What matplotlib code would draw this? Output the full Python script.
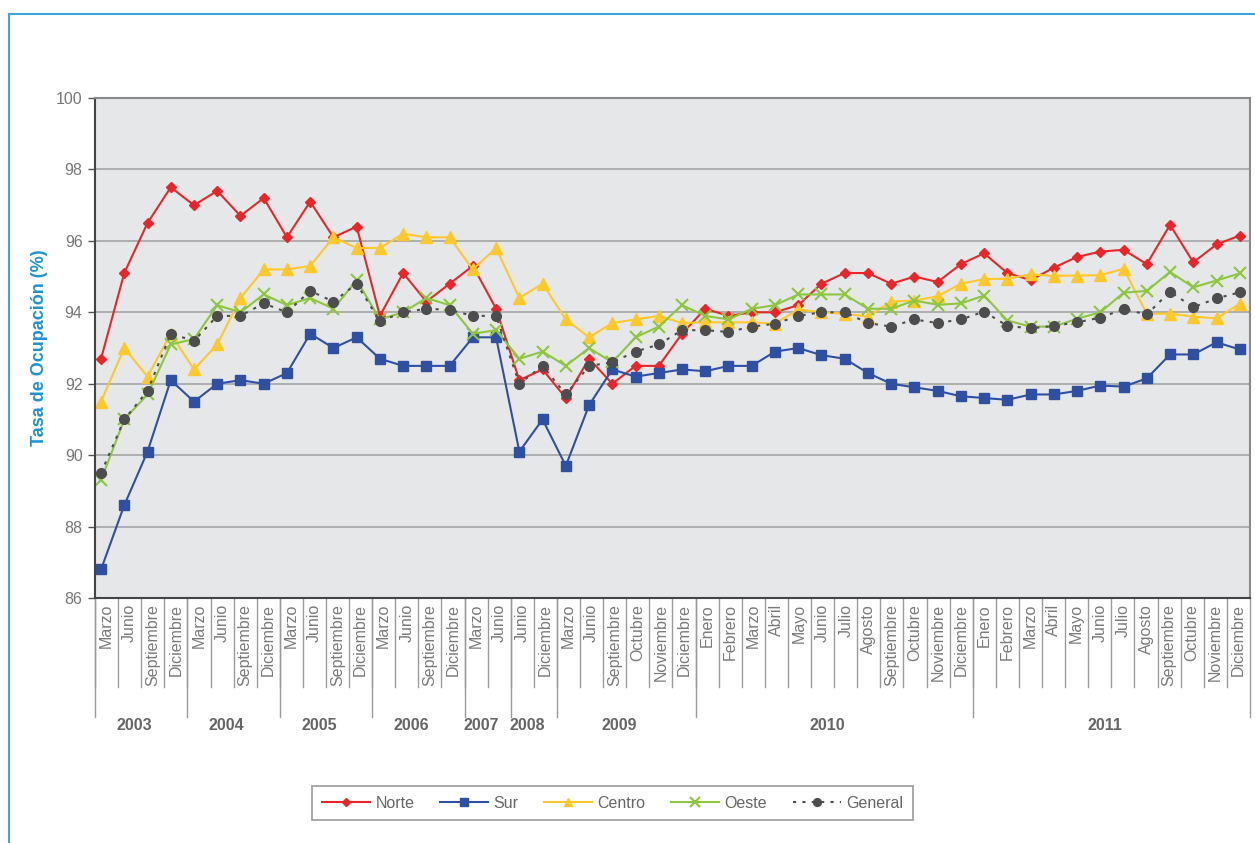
import matplotlib.pyplot as plt
from matplotlib.lines import Line2D

plt.rcParams['font.family'] = ['Liberation Sans', 'DejaVu Sans']

# categories (year -> months)
years = ['2003', '2004', '2005', '2006', '2007', '2008', '2009', '2010', '2011']
months_by_year = [
    ['Marzo', 'Junio', 'Septiembre', 'Diciembre'],
    ['Marzo', 'Junio', 'Septiembre', 'Diciembre'],
    ['Marzo', 'Junio', 'Septiembre', 'Diciembre'],
    ['Marzo', 'Junio', 'Septiembre', 'Diciembre'],
    ['Marzo', 'Junio'],
    ['Junio', 'Diciembre'],
    ['Marzo', 'Junio', 'Septiembre', 'Octubre', 'Noviembre', 'Diciembre'],
    ['Enero', 'Febrero', 'Marzo', 'Abril', 'Mayo', 'Junio', 'Julio', 'Agosto',
     'Septiembre', 'Octubre', 'Noviembre', 'Diciembre'],
    ['Enero', 'Febrero', 'Marzo', 'Abril', 'Mayo', 'Junio', 'Julio', 'Agosto',
     'Septiembre', 'Octubre', 'Noviembre', 'Diciembre'],
]

norte = [92.7, 95.1, 96.5, 97.5, 97.0, 97.4, 96.7, 97.2, 96.1, 97.1, 96.1, 96.4,
         93.9, 95.1, 94.3, 94.8, 95.3, 94.1, 92.1, 92.4, 91.6, 92.7, 92.0, 92.5, 92.5, 93.4,
         94.1, 93.9, 94.0, 94.0, 94.2, 94.8, 95.1, 95.1, 94.8, 95.0, 94.85, 95.35,
         95.65, 95.1, 94.9, 95.25, 95.55, 95.7, 95.75, 95.35, 96.45, 95.4, 95.9, 96.15]
sur = [86.8, 88.6, 90.1, 92.1, 91.5, 92.0, 92.1, 92.0, 92.3, 93.4, 93.0, 93.3,
       92.7, 92.5, 92.5, 92.5, 93.3, 93.3, 90.1, 91.0, 89.7, 91.4, 92.4, 92.2, 92.3, 92.4,
       92.35, 92.5, 92.5, 92.9, 93.0, 92.8, 92.7, 92.3, 92.0, 91.9, 91.8, 91.65,
       91.6, 91.55, 91.7, 91.7, 91.8, 91.95, 91.92, 92.15, 92.82, 92.82, 93.16, 92.96]
centro = [91.5, 93.0, 92.2, 93.4, 92.4, 93.1, 94.4, 95.2, 95.2, 95.3, 96.1, 95.8,
          95.8, 96.2, 96.1, 96.1, 95.2, 95.8, 94.4, 94.8, 93.8, 93.3, 93.7, 93.8, 93.9, 93.7,
          93.72, 93.72, 93.72, 93.68, 94.08, 94.0, 93.96, 93.88, 94.3, 94.33, 94.45, 94.8,
          94.93, 94.94, 95.06, 95.02, 95.03, 95.04, 95.22, 93.96, 93.96, 93.88, 93.83, 94.24]
oeste = [89.3, 91.0, 91.7, 93.1, 93.25, 94.2, 94.0, 94.5, 94.2, 94.4, 94.1, 94.9,
         93.8, 94.0, 94.4, 94.2, 93.4, 93.5, 92.7, 92.9, 92.5, 93.0, 92.6, 93.3, 93.6, 94.2,
         93.9, 93.8, 94.1, 94.2, 94.5, 94.5, 94.5, 94.1, 94.1, 94.33, 94.21, 94.25,
         94.47, 93.77, 93.6, 93.6, 93.82, 94.0, 94.55, 94.6, 95.13, 94.7, 94.89, 95.09]
general = [89.5, 91.0, 91.8, 93.4, 93.2, 93.9, 93.9, 94.25, 94.0, 94.6, 94.3, 94.8,
           93.75, 94.0, 94.1, 94.07, 93.9, 93.9, 92.0, 92.5, 91.7, 92.5, 92.6, 92.9, 93.1, 93.5,
           93.5, 93.45, 93.6, 93.68, 93.9, 94.0, 94.0, 93.7, 93.6, 93.8, 93.7, 93.8,
           94.02, 93.62, 93.55, 93.62, 93.72, 93.85, 94.09, 93.94, 94.58, 94.14, 94.39, 94.56]

months = [m for ms in months_by_year for m in ms]
n = len(months)
x = list(range(n))

fig = plt.figure(figsize=(12.55, 8.43), dpi=100)
ax = fig.add_axes([0.0757, 0.2906, 0.9203, 0.5931])
ax.set_facecolor('#E6E7E8')

ax.plot(x, norte, color='#E8262A', lw=1.5, marker='D', ms=5, label='Norte')
ax.plot(x, sur, color='#2F4FA2', lw=1.5, marker='s', ms=7, label='Sur')
ax.plot(x, centro, color='#FFC82A', lw=1.5, marker='^', ms=8, label='Centro')
ax.plot(x, oeste, color='#8DC63F', lw=1.5, marker='x', ms=9, mew=1.5, label='Oeste')
ax.plot(x, general, color='#4D4D4D', lw=1.5, ls=(0, (1.5, 3)), marker='o', ms=7,
        label='General')

ax.set_ylim(86, 100)
ax.set_yticks(range(86, 101, 2))
ax.set_xlim(-0.26, 49.44)
ax.set_xticks([])
ax.grid(axis='y', color='#A9A9A9', lw=1.3)
ax.set_axisbelow(True)
ax.tick_params(axis='y', length=5, width=1, color='#555555', labelsize=11.5,
               labelcolor='#777777', pad=4)
for s in ['top', 'right']:
    ax.spines[s].set_color('#8A8A8A')
    ax.spines[s].set_linewidth(1.5)
for s in ['left', 'bottom']:
    ax.spines[s].set_color('#444444')
    ax.spines[s].set_linewidth(1.5)

ax.set_ylabel('Tasa de Ocupación (%)', fontsize=13, fontweight='bold', color='#1D93D3')
ax.yaxis.set_label_coords(-0.041, 0.5)

# category table below the axis
sep_col = '#9A9A9A'
for i, m in enumerate(months):
    ax.text((i + 0.5) / n, -0.012, m, transform=ax.transAxes, rotation=90,
            ha='center', va='top', fontsize=11.5, color='#7A7A7A')
    ax.add_line(Line2D([i / n, i / n], [0, -0.178], transform=ax.transAxes,
                       color=sep_col, lw=1, clip_on=False))
start = 0
for yr, ms in zip(years, months_by_year):
    end = start + len(ms)
    ax.add_line(Line2D([start / n, start / n], [0, -0.238], transform=ax.transAxes,
                       color=sep_col, lw=1, clip_on=False))
    ax.text((start + end) / 2 / n - 0.006, -0.254, yr, transform=ax.transAxes,
            ha='center', va='center', fontsize=11.5, fontweight='bold', color='#666666')
    start = end
ax.add_line(Line2D([1, 1], [0, -0.238], transform=ax.transAxes,
                   color=sep_col, lw=1, clip_on=False))

# blue frame
fig.add_artist(Line2D([9 / 1255, 1], [1 - 14 / 843, 1 - 14 / 843],
                      transform=fig.transFigure, color='#3DA4DC', lw=1.5))
fig.add_artist(Line2D([9 / 1255, 9 / 1255], [0, 1 - 14 / 843],
                      transform=fig.transFigure, color='#3DA4DC', lw=1.5))

leg = fig.legend(loc='center', bbox_to_anchor=(0.488, 0.0474), ncol=5,
                 fontsize=11.5, frameon=True, fancybox=False, edgecolor='#8A8A8A',
                 handlelength=3.0, columnspacing=1.6, handletextpad=0.35,
                 borderpad=0.6, markerscale=0.8)
leg.get_frame().set_linewidth(1.3)
for t in leg.get_texts():
    t.set_color('#666666')

fig.savefig('out.png', dpi=100)
